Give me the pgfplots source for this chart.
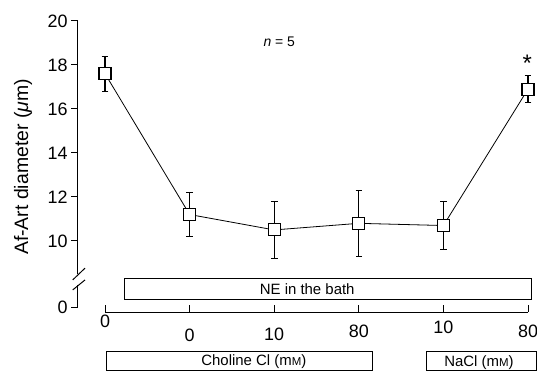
\documentclass[border=0pt]{standalone}
\usepackage{fontspec}
\setmainfont{Liberation Sans}
\usepackage{pgfplots}
\pgfplotsset{compat=1.18}
\newcommand{\tf}{\fontsize{18}{21}\selectfont}
\begin{document}
\begin{tikzpicture}
\useasboundingbox (0,0) rectangle (537bp,372bp);
\begin{axis}[
  at={(77.7bp,60bp)}, anchor=south west,
  scale only axis, width=450.3bp, height=291.1bp,
  xmin=-0.323, xmax=5, ymin=6.77, ymax=20,
  axis line style={draw=none},
  clip=false,
  xtick={0,1,2,3,4,5},
  xticklabels={{\tf\raisebox{10bp}{0}},{\tf\raisebox{-4bp}{0}},{\tf\raisebox{-3bp}{10}},{\tf 80},{\tf\raisebox{3.5bp}{10}},{\tf 80}},
  ytick={6.97,10,12,14,16,18,20},
  yticklabels={{\tf 0},{\tf 10},{\tf 12},{\tf 14},{\tf 16},{\tf 18},{\tf 20}},
  xtick pos=bottom, ytick pos=left,
  xtick align=inside, ytick align=outside,
  major tick length=6.5bp,
  x tick style={line width=1pt, black},
  y tick style={line width=1pt, black},
  tick label style={font=\tf, black},
  x tick label style={anchor=base, yshift=-25bp},
  y tick label style={xshift=0bp},
  /pgf/number format/assume math mode=true,
]
\addplot[black, line width=0.8pt, mark=square*,
  mark options={fill=white, line width=1.1pt, mark size=6bp},
  error bars/.cd, y dir=both, y explicit,
  error bar style={line width=1.1pt, black},
  error mark options={line width=1.1pt, black, mark size=3.3bp, rotate=90}]
coordinates {
  (0,17.6) += (0,0.8) -= (0,0.8)
  (1,11.2) += (0,1.0) -= (0,1.0)
  (2,10.5) += (0,1.3) -= (0,1.3)
  (3,10.8) += (0,1.5) -= (0,1.5)
  (4,10.7) += (0,1.1) -= (0,1.1)
  (5,16.9) += (0,0.6) -= (0,0.6)
};
% axis lines
\draw[line width=1pt] (axis cs:-0.323,20) -- (axis cs:-0.323,8.5);
\draw[line width=1pt] (axis cs:-0.323,8.0) -- (axis cs:-0.323,6.97);
\draw[line width=1pt] ([xshift=-5bp,yshift=-6bp]axis cs:-0.323,8.5) -- ([xshift=7.3bp,yshift=5.8bp]axis cs:-0.323,8.5);
\draw[line width=1pt] ([xshift=-5bp,yshift=-5bp]axis cs:-0.323,8.0) -- ([xshift=7.3bp,yshift=5bp]axis cs:-0.323,8.0);
\draw[line width=1pt] (axis cs:0,6.77) -- (axis cs:5,6.77);
% boxes
\draw[line width=1pt] (axis cs:0.225,7.35) rectangle (axis cs:5.044,8.305);
\node[font=\fontsize{15}{18}\selectfont] at (axis cs:2.39,7.82) {NE in the bath};
\draw[line width=1pt] (axis cs:0.012,4.09) rectangle (axis cs:3.156,4.955);
\node[font=\fontsize{15}{18}\selectfont] at (axis cs:1.76,4.5) {Choline Cl (m{\fontsize{11.5}{14}\selectfont M})};
\draw[line width=1pt] (axis cs:3.806,4.09) rectangle (axis cs:5.1,4.955);
\node[font=\fontsize{15}{18}\selectfont] at (axis cs:4.42,4.45) {NaCl (m{\fontsize{11.5}{14}\selectfont M})};
% annotations
\node[font=\fontsize{14}{17}\selectfont] at (axis cs:2.06,19.03) {\textit{n} = 5};
\node[font=\fontsize{24}{27}\selectfont] at (axis cs:4.99,18.08) {*};
\end{axis}
\node[rotate=90, font=\fontsize{19.5}{23}\selectfont] at (23bp,205bp) {Af-Art diameter ({\itshape μ}m)};
\end{tikzpicture}
\end{document}
